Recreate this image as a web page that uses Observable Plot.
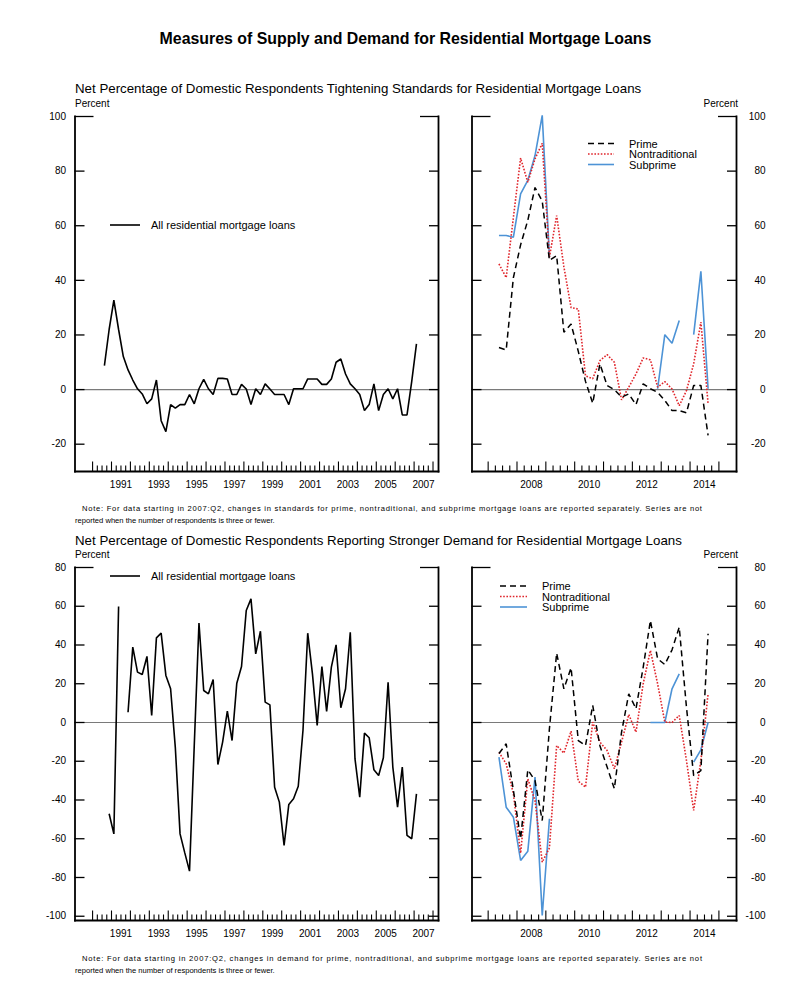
<!DOCTYPE html>
<html>
<head>
<meta charset="utf-8">
<script src="https://cdn.jsdelivr.net/npm/d3@7"></script>
<script src="https://cdn.jsdelivr.net/npm/@observablehq/plot@0.6"></script>
<style>
html,body{margin:0;padding:0;background:#fff;}
#root{position:relative;width:811px;height:989px;overflow:hidden;font-family:"Liberation Sans",Arial,Helvetica,sans-serif;}
.panel{position:absolute;}
.panel svg{overflow:visible;display:block;max-width:none;}
#overlay{position:absolute;left:0;top:0;}
</style>
</head>
<body>
<div id="root"></div>
<script>
// ---------------- DATA ----------------
const allStartQuarter = "1990:Q3";     // first quarter of the "all residential" series
const splitStartQuarter = "2007:Q2";   // first quarter of the prime / nontraditional / subprime series

// Net % tightening standards, all residential mortgage loans (1990:Q3 - 2007:Q1)
const standardsAll = [8.8, 22, 32.8, 22, 12.1, 7.2, 3.5, 0.3, -1.6, -5.2,
  -3.4, 3.5, -11.4, -15.4, -5.5, -6.8, -5.5, -5.5, -1.8, -5.2,
  0.3, 3.7, 0.3, -1.8, 4.1, 4.1, 3.9, -1.8, -1.8, 1.9,
  0.2, -5.5, 0.3, -1.8, 2.1, 0.2, -1.8, -1.8, -1.8, -5.5,
  0.3, 0.3, 0.3, 3.9, 3.9, 3.9, 1.9, 1.9, 3.9, 10,
  11.2, 5.7, 2.1, 0.3, -1.8, -7.7, -5.5, 2.1, -7.7, -1.8,
  0.3, -3.4, 0.3, -9.3, -9.3, 3, 16.7];

// Net % reporting stronger demand, all residential mortgage loans (1990:Q3 - 2007:Q1)
const demandAll = [null, -47.1, -57.5, 59.9, null, 5.3, 38.9, 26, 24.8, 34.1,
  3.6, 43.7, 46.1, 24.3, 17.4, -13, -57.5, -67.3, -76.7, -12,
  51.3, 16.5, 14.8, 22.2, -21.7, -10.1, 5.9, -9.3, 20.3, 28.9,
  57.8, 63.8, 35.4, 47.1, 10.5, 9.1, -33.4, -41.1, -63.5, -42.3,
  -39.4, -32.9, -4, 46.1, 25.1, -1.5, 28.9, 5.7, 28.6, 40.1,
  7.6, 17.4, 46.6, -18.8, -38.5, -5.5, -7.9, -24.4, -27.4, -18.2,
  20.8, -23, -43.7, -23, -58.3, -60, -36.8];

// 2007:Q2 - 2014:Q3
const standardsPrime = [15.4, 14.5, 41, 53, 62, 74, 69, 47.3, 49.1, 21,
  24, 14, 3, -5, 9.4, 1.5, 0, -2.8, -1.6, -5.5,
  2.1, 0.3, -1, -4, -7.7, -7.7, -8.5, 1.5, 1.5, -16.8];
const standardsNontraditional = [46, 41, 63, 84.8, 75.9, 84.5, 90.2, 48.5, 63.7, 45,
  30, 29.5, 5, 4, 10.6, 12.8, 10, -3.8, 0.9, 5.7,
  11.6, 10.9, 0.9, 2.9, 0.2, -5.9, -0.4, 9.4, 24.7, -5.2];
const standardsSubprime = [56.4, 56.4, 55.8, 71.7, 76.6, 85.7, 100.4, 48.5, null, null,
  null, null, null, null, null, null, null, null, null, null,
  null, null, 0.3, 20.1, 17, 25.3, null, 20.1, 43.3, 0.3];

const demandPrime = [-16, -11, -35, -60, -24.4, -30, -50.6, -3, 35.8, 17.4,
  28.2, -9.3, -11.9, 8.8, -12, -23, -34.2, -5, 14.8, 7.1,
  28.5, 52.6, 32.9, 29.9, 37.5, 49.2, 7.9, -27.4, -24.8, 45.8];
const demandNontraditional = [-15.4, -21.3, -36.8, -67.5, -29.1, -40.3, -72.1, -64.7, -11.9, -15.8,
  -4.5, -30.3, -33.4, 0.2, -10.1, -14.5, -23.9, -10.1, 4.1, -5,
  20, 37.2, 20, 0.2, 0, 3.6, -19.6, -45.4, -19.6, 14.8];
const demandSubprime = [-17.9, -43.7, -48.9, -71.2, -66.4, -28.2, -99.6, -49.7, null, null,
  null, null, null, null, null, null, null, null, null, null,
  null, 0, 0, 0, 17.4, 25.1, null, -20.5, -14.1, 0];

// axis labels / ticks
const leftYearLabels = [1991, 1993, 1995, 1997, 1999, 2001, 2003, 2005, 2007];
const rightYearLabels = [2008, 2010, 2012, 2014];
const leftYearRange = [1990, 2008];
const rightYearRange = [2007, 2015];
const standardsTicks = [-20, 0, 20, 40, 60, 80, 100];
const demandTicks = [-100, -80, -60, -40, -20, 0, 20, 40, 60, 80];

const seriesNames = ["Prime", "Nontraditional", "Subprime"];
const allName = "All residential mortgage loans";

// ---------------- STYLE ----------------
const FONT = '"Liberation Sans", Arial, Helvetica, sans-serif';
const BLACK = "#000000", RED = "#e0262c", BLUE = "#4d93d6", ZERO = "#7a7a7a";
const styles = {
  all: {stroke: BLACK, strokeWidth: 1.6},
  Prime: {stroke: BLACK, strokeWidth: 1.5, strokeDasharray: "6,4"},
  Nontraditional: {stroke: RED, strokeWidth: 1.6, strokeDasharray: "1.6,1.6"},
  Subprime: {stroke: BLUE, strokeWidth: 1.6}
};

function quarterly(startLabel, values) {
  const [y, q] = startLabel.split(":Q").map(Number);
  const base = y + (q - 1) / 4;
  return values.map((v, i) => ({t: base + i / 4 + 0.125, v}));
}

const root = d3.select("#root");

function panel(o) {
  const [fx0, fx1, fy0, fy1] = o.frame;
  const mL = fx0 - o.left, mR = o.left + o.width - fx1, mT = fy0 - o.top, mB = o.top + o.height - fy1;
  const yearTicks = d3.range(o.years[0], o.years[1] + 1);
  const quarterTicks = [];
  for (let y = o.years[0]; y < o.years[1]; y++) for (const f of [0.25, 0.5, 0.75]) quarterTicks.push(y + f);
  const labelPos = o.labelYears.map(y => y + 0.5);
  const topVal = o.yTicks[o.yTicks.length - 1];
  const innerTicks = o.yTicks.slice(0, -1);
  const marks = [
    Plot.ruleY([0], {stroke: ZERO, strokeWidth: 1.2}),
    ...o.series.map(s => Plot.line(s.data, {x: "t", y: "v", ...styles[s.key], strokeLinejoin: "miter", strokeLinecap: "butt"})),
    Plot.frame({anchor: "left", stroke: BLACK, strokeWidth: 1.8}),
    Plot.frame({anchor: "right", stroke: BLACK, strokeWidth: 1.8}),
    Plot.frame({anchor: "bottom", stroke: BLACK, strokeWidth: 1.8}),
    Plot.axisX(yearTicks, {anchor: "bottom", tickSize: -9.5, fill: "none", label: null, strokeWidth: 1.1}),
    Plot.axisX(quarterTicks, {anchor: "bottom", tickSize: -5.5, fill: "none", label: null, strokeWidth: 1.1}),
    Plot.axisX(labelPos, {anchor: "bottom", tickSize: 0, tickPadding: 9, tickFormat: d => String(Math.floor(d)), label: null}),
    Plot.axisY(innerTicks, {anchor: "left", tickSize: -10, fill: "none", label: null, strokeWidth: 1.3}),
    Plot.axisY(innerTicks, {anchor: "right", tickSize: -10, fill: "none", label: null, strokeWidth: 1.3}),
    Plot.axisY([topVal], {anchor: "left", tickSize: -19, fill: "none", label: null, strokeWidth: 1.3}),
    Plot.axisY([topVal], {anchor: "right", tickSize: -19, fill: "none", label: null, strokeWidth: 1.3}),
    o.rightLabels
      ? Plot.axisY(o.yTicks, {anchor: "right", tickSize: 0, tickPadding: 29, textAnchor: "end", tickFormat: d => String(d), label: null})
      : Plot.axisY(o.yTicks, {anchor: "left", tickSize: 0, tickPadding: 9, tickFormat: d => String(d), label: null})
  ];
  const chart = Plot.plot({
    width: o.width, height: o.height,
    marginLeft: mL, marginRight: mR, marginTop: mT, marginBottom: mB,
    x: {domain: o.xDomain, axis: null},
    y: {domain: o.yDomain, axis: null},
    style: {fontFamily: FONT, fontSize: "10px", color: "#000", background: "transparent", overflow: "visible"},
    marks
  });
  root.append("div").attr("class", "panel")
    .style("left", o.left + "px").style("top", o.top + "px")
    .style("width", o.width + "px").style("height", o.height + "px")
    .node().appendChild(chart);
}

const leftX = [1989.07, 2008.29];
const rightX = [2006.44, 2015.61];
const topY = [-30, 100];
const botY = [-102.2, 80];

panel({left: 0, top: 100, width: 460, height: 400, frame: [74.5, 438, 116, 471],
  xDomain: leftX, yDomain: topY, yTicks: standardsTicks, years: leftYearRange, labelYears: leftYearLabels,
  series: [{key: "all", data: quarterly(allStartQuarter, standardsAll)}], rightLabels: false});
panel({left: 460, top: 100, width: 320, height: 400, frame: [471.5, 736, 116, 471],
  xDomain: rightX, yDomain: topY, yTicks: standardsTicks, years: rightYearRange, labelYears: rightYearLabels,
  series: [
    {key: "Subprime", data: quarterly(splitStartQuarter, standardsSubprime)},
    {key: "Nontraditional", data: quarterly(splitStartQuarter, standardsNontraditional)},
    {key: "Prime", data: quarterly(splitStartQuarter, standardsPrime)}
  ], rightLabels: true});
panel({left: 0, top: 550, width: 460, height: 400, frame: [74.5, 438, 567, 920],
  xDomain: leftX, yDomain: botY, yTicks: demandTicks, years: leftYearRange, labelYears: leftYearLabels,
  series: [{key: "all", data: quarterly(allStartQuarter, demandAll)}], rightLabels: false});
panel({left: 460, top: 550, width: 320, height: 400, frame: [471.5, 736, 567, 920],
  xDomain: rightX, yDomain: botY, yTicks: demandTicks, years: rightYearRange, labelYears: rightYearLabels,
  series: [
    {key: "Subprime", data: quarterly(splitStartQuarter, demandSubprime)},
    {key: "Nontraditional", data: quarterly(splitStartQuarter, demandNontraditional)},
    {key: "Prime", data: quarterly(splitStartQuarter, demandPrime)}
  ], rightLabels: true});

// ---------------- TEXT & LEGENDS ----------------
const ov = root.append("svg").attr("id", "overlay").attr("width", 811).attr("height", 989)
  .style("font-family", FONT).style("pointer-events", "none");
function txt(x, y, s, size, anchor = "start", weight = "normal") {
  return ov.append("text").attr("x", x).attr("y", y).attr("font-size", size)
    .attr("text-anchor", anchor).attr("font-weight", weight).attr("fill", "#000").text(s);
}
function legendRow(x0, x1, y, tx, label, st) {
  ov.append("line").attr("x1", x0).attr("x2", x1).attr("y1", y).attr("y2", y)
    .attr("stroke", st.stroke).attr("stroke-width", st.strokeWidth)
    .attr("stroke-dasharray", st.strokeDasharray || null);
  txt(tx, y + 4, label, 11);
}
function note(y, line1, line2) {
  txt(82, y, line1, 7.6).attr("textLength", 620).attr("lengthAdjust", "spacing");
  txt(75, y + 12, line2, 7.6);
}

txt(405.5, 43.5, "Measures of Supply and Demand for Residential Mortgage Loans", 15.9, "middle", "bold");

txt(75, 93, "Net Percentage of Domestic Respondents Tightening Standards for Residential Mortgage Loans", 13.3);
txt(75, 106.5, "Percent", 10);
txt(738, 106.5, "Percent", 10, "end");
note(511, "Note: For data starting in 2007:Q2, changes in standards for prime, nontraditional, and subprime mortgage loans are reported separately. Series are not",
  "reported when the number of respondents is three or fewer.");

txt(75, 545, "Net Percentage of Domestic Respondents Reporting Stronger Demand for Residential Mortgage Loans", 13.3);
txt(75, 558, "Percent", 10);
txt(738, 558, "Percent", 10, "end");
note(961, "Note: For data starting in 2007:Q2, changes in demand for prime, nontraditional, and subprime mortgage loans are reported separately. Series are not",
  "reported when the number of respondents is three or fewer.");

legendRow(110, 140, 225, 151, allName, styles.all);
legendRow(588, 614, 143.5, 629, seriesNames[0], styles.Prime);
legendRow(588, 614, 154, 629, seriesNames[1], styles.Nontraditional);
legendRow(588, 614, 164.5, 629, seriesNames[2], styles.Subprime);

legendRow(110, 140, 576, 151, allName, styles.all);
legendRow(500, 527, 586, 542, seriesNames[0], styles.Prime);
legendRow(500, 527, 596.5, 542, seriesNames[1], styles.Nontraditional);
legendRow(500, 527, 607, 542, seriesNames[2], styles.Subprime);
</script>
</body>
</html>
